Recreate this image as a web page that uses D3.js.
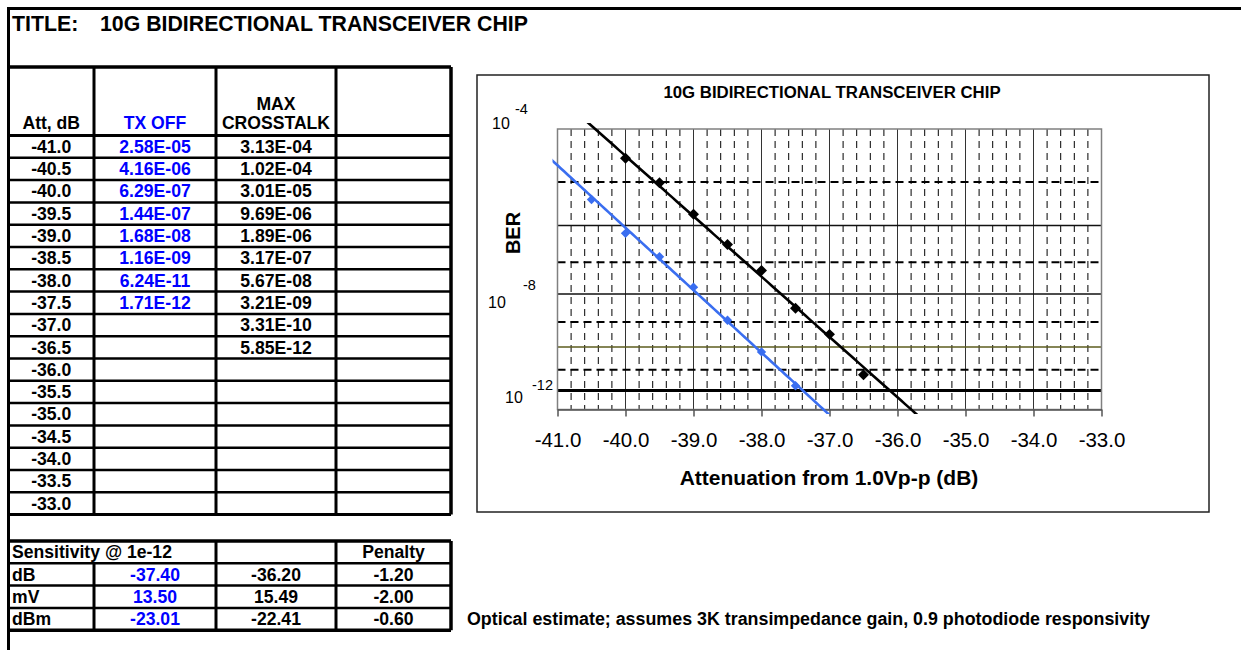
<!DOCTYPE html>
<html>
<head>
<meta charset="utf-8">
<script src="https://cdn.jsdelivr.net/npm/d3@7"></script>
<style>
  body { margin: 0; background: #fff; }
  svg { display: block; font-family: "Liberation Sans", Arial, sans-serif; }
</style>
</head>
<body>
<div id="chart"></div>
<script>
// Table / chart data
const attenuation = [-41.0, -40.5, -40.0, -39.5, -39.0, -38.5, -38.0, -37.5, -37.0, -36.5,
    -36.0, -35.5, -35.0, -34.5, -34.0, -33.5, -33.0];
const txOff = [2.58e-5, 4.16e-6, 6.29e-7, 1.44e-7, 1.68e-8, 1.16e-9, 6.24e-11, 1.71e-12];
const maxCrosstalk = [3.13e-4, 1.02e-4, 3.01e-5, 9.69e-6, 1.89e-6, 3.17e-7, 5.67e-8, 3.21e-9, 3.31e-10, 5.85e-12];

const sensLabels = ['dB', 'mV', 'dBm'];
const sensTxOff = [-37.40, 13.50, -23.01];
const sensCrosstalk = [-36.20, 15.49, -22.41];
const sensPenalty = [-1.20, -2.00, -0.60];

const xTicks = [-41, -40, -39, -38, -37, -36, -35, -34, -33];
const yLabelExps = [4, 8, 12];          // 10^-4, 10^-8, 10^-12
const berDecades = [5, 6, 7, 8, 9, 10, 11, 12];

const W = 1241, H = 650;
const BLUE_TXT = '#0000ff';
const BLUE_LINE = '#3a6ef0';

const svg = d3.select('#chart')
    .append('svg')
    .attr('width', W)
    .attr('height', H);

const fmtE = v => {
    const [m, e] = v.toExponential(2).split('e');
    const n = +e;
    return m + 'E' + (n < 0 ? '-' : '+') + String(Math.abs(n)).padStart(2, '0');
};

// Page frame
svg.append('line').attr('x1', 7).attr('x2', W).attr('y1', 8.5).attr('y2', 8.5)
    .attr('stroke', '#000').attr('stroke-width', 3);
svg.append('line').attr('x1', 8.5).attr('x2', 8.5).attr('y1', 7).attr('y2', H)
    .attr('stroke', '#000').attr('stroke-width', 3);

svg.append('text').attr('x', 12).attr('y', 31)
    .attr('font-size', 21.3).attr('font-weight', 'bold').text('TITLE:');
svg.append('text').attr('x', 100).attr('y', 31)
    .attr('font-size', 21.3).attr('font-weight', 'bold').text('10G BIDIRECTIONAL TRANSCEIVER CHIP');

// Main table
const cols = [8.5, 94, 216, 336, 451];
const colMid = i => (cols[i] + cols[i + 1]) / 2;
const headTop = 67;
const rowTop = 135.5;
const rowH = 22.3;
const tableBottom = rowTop + attenuation.length * rowH;

const table = svg.append('g');

table.append('line').attr('x1', cols[0]).attr('x2', cols[4]).attr('y1', headTop).attr('y2', headTop)
    .attr('stroke', '#000').attr('stroke-width', 3.5);

table.selectAll('line.row')
    .data(d3.range(attenuation.length + 1))
    .enter()
    .append('line')
    .attr('class', 'row')
    .attr('x1', cols[0]).attr('x2', cols[4])
    .attr('y1', i => rowTop + i * rowH).attr('y2', i => rowTop + i * rowH)
    .attr('stroke', '#000')
    .attr('stroke-width', (i) => (i === 0 || i === attenuation.length) ? 3 : 2.5);

table.selectAll('line.col')
    .data(cols)
    .enter()
    .append('line')
    .attr('class', 'col')
    .attr('x1', d => d).attr('x2', d => d)
    .attr('y1', headTop).attr('y2', tableBottom)
    .attr('stroke', '#000')
    .attr('stroke-width', (d, i) => i === 4 ? 3.5 : 3);

const cell = (g, x, y, txt, color, anchor) => g.append('text')
    .attr('x', x).attr('y', y)
    .attr('text-anchor', anchor || 'middle')
    .attr('font-size', 17.6).attr('font-weight', 'bold')
    .attr('fill', color || '#000')
    .text(txt);

cell(table, colMid(0), 129, 'Att, dB');
cell(table, colMid(1), 129, 'TX OFF', BLUE_TXT);
cell(table, colMid(2), 109.5, 'MAX');
cell(table, colMid(2), 129, 'CROSSTALK');

attenuation.forEach((a, i) => {
    const yb = rowTop + i * rowH + 17.3;
    cell(table, colMid(0), yb, a.toFixed(1));
    if (i < txOff.length) cell(table, colMid(1), yb, fmtE(txOff[i]), BLUE_TXT);
    if (i < maxCrosstalk.length) cell(table, colMid(2), yb, fmtE(maxCrosstalk[i]));
});

// Sensitivity table
const sTop = 541;
const sens = svg.append('g');
d3.range(5).forEach(i => {
    sens.append('line').attr('x1', cols[0]).attr('x2', cols[4])
        .attr('y1', sTop + i * rowH).attr('y2', sTop + i * rowH)
        .attr('stroke', '#000').attr('stroke-width', (i === 0 || i === 4) ? 3.5 : 2.5);
});
cols.forEach((c, i) => {
    sens.append('line').attr('x1', c).attr('x2', c)
        .attr('y1', i === 1 ? sTop + rowH : sTop).attr('y2', sTop + 4 * rowH)
        .attr('stroke', '#000').attr('stroke-width', i === 4 ? 3.5 : 3);
});
cell(sens, 12, sTop + 17.3, 'Sensitivity @ 1e-12', '#000', 'start');
cell(sens, colMid(3), sTop + 17.3, 'Penalty');
sensLabels.forEach((lab, i) => {
    const yb = sTop + (i + 1) * rowH + 17.3;
    cell(sens, 12, yb, lab, '#000', 'start');
    cell(sens, colMid(1), yb, sensTxOff[i].toFixed(2), BLUE_TXT);
    cell(sens, colMid(2), yb, sensCrosstalk[i].toFixed(2));
    cell(sens, colMid(3), yb, sensPenalty[i].toFixed(2));
});

svg.append('text').attr('x', 467).attr('y', sTop + 3 * rowH + 17.3)
    .attr('font-size', 17.6).attr('font-weight', 'bold')
    .attr('textLength', 683).attr('lengthAdjust', 'spacingAndGlyphs')
    .text('Optical estimate; assumes 3K transimpedance gain, 0.9 photodiode responsivity');

// Chart box
svg.append('rect').attr('x', 477).attr('y', 75).attr('width', 732).attr('height', 437)
    .attr('fill', '#fff').attr('stroke', '#222').attr('stroke-width', 1.5);

const plot = { left: 557.5, right: 1101.5, top: 129, bottom: 409.5 };
const x = d3.scaleLinear().domain([-41, -33]).range([plot.left, plot.right]);
// y axis carries -log10(BER) on a log scale
const y = d3.scaleLog().domain([4, 13]).range([plot.top, plot.bottom]);

const chart = svg.append('g');

// minor vertical dashes every 0.2 dB
chart.selectAll('line.vminor')
    .data(x.ticks(40).filter(v => Math.abs(v - Math.round(v)) > 1e-6))
    .enter()
    .append('line')
    .attr('x1', d => x(d)).attr('x2', d => x(d))
    .attr('y1', plot.top).attr('y2', plot.bottom)
    .attr('stroke', '#000').attr('stroke-width', 1)
    .attr('stroke-dasharray', '7,5');

chart.selectAll('line.vmajor')
    .data(xTicks.slice(1, -1))
    .enter()
    .append('line')
    .attr('x1', d => x(d)).attr('x2', d => x(d))
    .attr('y1', plot.top).attr('y2', plot.bottom)
    .attr('stroke', '#333').attr('stroke-width', 1);

const hStyle = d => {
    if (d === 12) return { c: '#000', w: 3, dash: null };
    if (d === 10) return { c: '#5c5c1e', w: 1.5, dash: null };
    if (d % 2 === 1) return { c: '#000', w: 2, dash: '8,5' };
    return { c: '#111', w: 1.5, dash: null };
};

chart.selectAll('line.h')
    .data(berDecades)
    .enter()
    .append('line')
    .attr('x1', plot.left).attr('x2', plot.right)
    .attr('y1', d => y(d)).attr('y2', d => y(d))
    .attr('stroke', d => hStyle(d).c)
    .attr('stroke-width', d => hStyle(d).w)
    .attr('stroke-dasharray', d => hStyle(d).dash);

// plot frame
chart.append('rect')
    .attr('x', plot.left).attr('y', plot.top)
    .attr('width', plot.right - plot.left).attr('height', plot.bottom - plot.top)
    .attr('fill', 'none').attr('stroke', '#808080').attr('stroke-width', 1.5);

// x axis
const xAxis = chart.append('g')
    .attr('transform', `translate(0,${plot.bottom})`)
    .call(d3.axisBottom(x).tickValues(xTicks).tickFormat(d => d.toFixed(1))
        .tickSizeInner(7).tickSizeOuter(0).tickPadding(16));
xAxis.select('.domain').attr('stroke', '#555').attr('stroke-width', 1.5);
xAxis.selectAll('.tick line').attr('stroke', '#555').attr('stroke-width', 1.5);
xAxis.selectAll('text')
    .attr('font-family', '"Liberation Sans", Arial, sans-serif')
    .attr('font-size', 20.5).attr('fill', '#000');

// y labels 10^-n
const yLabelOffsets = [{ dx: 492, dy: 0, sx: 515, sy: -15 },
                       { dx: 488, dy: 13.8, sx: 523, sy: -3.5 },
                       { dx: 505, dy: 12.5, sx: 532, sy: 0 }];
yLabelExps.forEach((e, i) => {
    const o = yLabelOffsets[i];
    chart.append('text').attr('x', o.dx).attr('y', y(e) + o.dy)
        .attr('font-size', 16).text('10');
    chart.append('text').attr('x', o.sx).attr('y', y(e) + o.sy)
        .attr('font-size', 14.5).text('-' + e);
});

chart.append('text').attr('x', 832).attr('y', 97.5)
    .attr('text-anchor', 'middle').attr('font-size', 16.8).attr('font-weight', 'bold')
    .text('10G BIDIRECTIONAL TRANSCEIVER CHIP');
chart.append('text').attr('x', 829).attr('y', 484.5)
    .attr('text-anchor', 'middle').attr('font-size', 21).attr('font-weight', 'bold')
    .text('Attenuation from 1.0Vp-p (dB)');
chart.append('text')
    .attr('transform', 'translate(520,233) rotate(-90)')
    .attr('text-anchor', 'middle').attr('font-size', 20).attr('font-weight', 'bold')
    .text('BER');

// Series + exponential trendlines (straight on the log axis)
const series = [
    { values: txOff, color: BLUE_LINE, size: 44 },
    { values: maxCrosstalk, color: '#000', size: 60 }
];

svg.append('clipPath').attr('id', 'trendClip')
    .append('rect')
    .attr('x', plot.left - 5).attr('y', plot.top - 6)
    .attr('width', plot.right - plot.left + 5).attr('height', plot.bottom - plot.top + 10.5);

const fit = pts => {
    const mx = d3.mean(pts, p => p.x);
    const my = d3.mean(pts, p => Math.log(p.v));
    const b = d3.sum(pts, p => (p.x - mx) * (Math.log(p.v) - my)) / d3.sum(pts, p => (p.x - mx) ** 2);
    const a = my - b * mx;
    return xv => Math.exp(a + b * xv);
};

series.forEach(s => {
    const pts = s.values.map((v, i) => ({ x: attenuation[i], v: -Math.log10(v) }));
    const f = fit(pts);

    chart.selectAll(null)
        .data(pts.filter(p => p.x > x.domain()[0] && p.v >= y.domain()[0]))
        .enter()
        .append('path')
        .attr('d', d3.symbol(d3.symbolSquare, s.size))
        .attr('transform', p => `translate(${x(p.x)},${y(p.v)}) rotate(45)`)
        .attr('fill', s.color);

    const xs = d3.range(-41.5, -32.9, 0.05);
    chart.append('path')
        .datum(xs)
        .attr('clip-path', 'url(#trendClip)')
        .attr('fill', 'none')
        .attr('stroke', s.color)
        .attr('stroke-width', 2.6)
        .attr('d', d3.line().x(d => x(d)).y(d => y(Math.max(1.5, Math.min(30, f(d))))));
});
</script>
</body>
</html>
